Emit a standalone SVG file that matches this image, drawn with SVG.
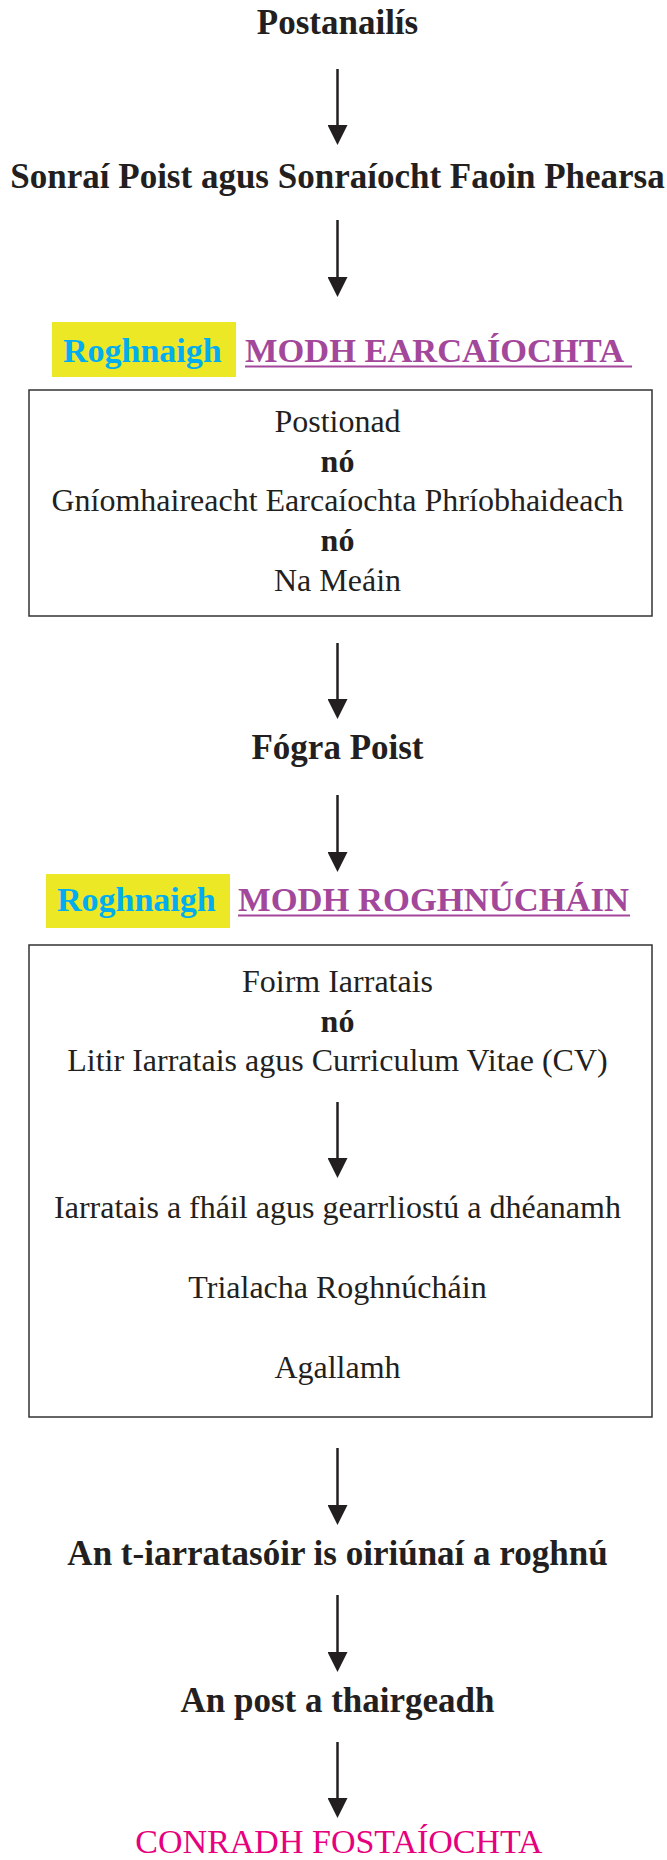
<svg xmlns="http://www.w3.org/2000/svg" width="667" height="1860" viewBox="0 0 667 1860">
<defs>
<style>
text{font-family:"Liberation Serif","Times New Roman",serif;fill:#231f20;text-anchor:middle}
.h{font-size:35px;font-weight:bold}
.r{font-size:32px}
.b{font-size:32px;font-weight:bold}
.sel{font-size:34px;font-weight:bold;fill:#00aeef;text-anchor:start}
.mode{font-size:34px;font-weight:bold;fill:#a3479b;text-anchor:start}
.ul{stroke:#a3479b;stroke-width:2}
.hl{fill:#ece826}
.box{fill:none;stroke:#333;stroke-width:1.5}
.conn line{stroke:#231f20;stroke-width:2.5}
.end{font-size:34px;fill:#e6007e}
</style>
<marker id="ah" viewBox="0 0 20 20" refX="0" refY="10" markerWidth="20" markerHeight="20" markerUnits="userSpaceOnUse" orient="auto">
<path d="M0,0 L20,10 L0,20 z" fill="#231f20"/>
</marker>
</defs>
<rect width="667" height="1860" fill="#fff"/>

<g id="n-postanailis"><text class="h" x="337.5" y="34">Postanailís</text></g>
<g id="n-sonrai"><text class="h" x="337.5" y="188">Sonraí Poist agus Sonraíocht Faoin Phearsa</text></g>

<g id="n-modh-earcaiochta">
<rect class="hl" x="52" y="322" width="184" height="55"/>
<text class="sel" x="63" y="362">Roghnaigh</text>
<text class="mode" x="245" y="362" textLength="379" lengthAdjust="spacingAndGlyphs">MODH EARCAÍOCHTA</text>
<line class="ul" x1="245" y1="366.5" x2="632" y2="366.5"/>
</g>

<g id="n-earcaiocht-box">
<rect class="box" x="29" y="390" width="623" height="226"/>
<text class="r" x="337.5" y="432">Postionad</text>
<text class="b" x="337.5" y="472">nó</text>
<text class="r" x="337.5" y="511">Gníomhaireacht Earcaíochta Phríobhaideach</text>
<text class="b" x="337.5" y="551">nó</text>
<text class="r" x="337.5" y="591">Na Meáin</text>
</g>

<g id="n-fogra"><text class="h" x="337.5" y="759">Fógra Poist</text></g>

<g id="n-modh-roghnuchain">
<rect class="hl" x="46" y="874" width="184" height="54"/>
<text class="sel" x="57" y="911">Roghnaigh</text>
<text class="mode" x="238" y="911" textLength="391" lengthAdjust="spacingAndGlyphs">MODH ROGHNÚCHÁIN</text>
<line class="ul" x1="238" y1="915.5" x2="630" y2="915.5"/>
</g>

<g id="n-roghnuchan-box">
<rect class="box" x="29" y="945" width="623" height="472"/>
<text class="r" x="337.5" y="992">Foirm Iarratais</text>
<text class="b" x="337.5" y="1032">nó</text>
<text class="r" x="337.5" y="1071">Litir Iarratais agus Curriculum Vitae (CV)</text>
</g>
<g id="n-gearrliostu"><text class="r" x="337.5" y="1218">Iarratais a fháil agus gearrliostú a dhéanamh</text></g>
<g id="n-trialacha"><text class="r" x="337.5" y="1298">Trialacha Roghnúcháin</text></g>
<g id="n-agallamh"><text class="r" x="337.5" y="1378">Agallamh</text></g>

<g id="n-roghnu"><text class="h" x="337.5" y="1565">An t-iarratasóir is oiriúnaí a roghnú</text></g>
<g id="n-tairgeadh"><text class="h" x="337.5" y="1712">An post a thairgeadh</text></g>
<g id="n-conradh"><text class="end" x="339" y="1853">CONRADH FOSTAÍOCHTA</text></g>

<g id="connectors" class="conn">
<line x1="337.5" y1="69" x2="337.5" y2="125" marker-end="url(#ah)"/>
<line x1="337.5" y1="220" x2="337.5" y2="277" marker-end="url(#ah)"/>
<line x1="337.5" y1="643" x2="337.5" y2="699" marker-end="url(#ah)"/>
<line x1="337.5" y1="795" x2="337.5" y2="852" marker-end="url(#ah)"/>
<line x1="337.5" y1="1102" x2="337.5" y2="1158" marker-end="url(#ah)"/>
<line x1="337.5" y1="1448" x2="337.5" y2="1505" marker-end="url(#ah)"/>
<line x1="337.5" y1="1595" x2="337.5" y2="1652" marker-end="url(#ah)"/>
<line x1="337.5" y1="1742" x2="337.5" y2="1798" marker-end="url(#ah)"/>
</g>
</svg>
